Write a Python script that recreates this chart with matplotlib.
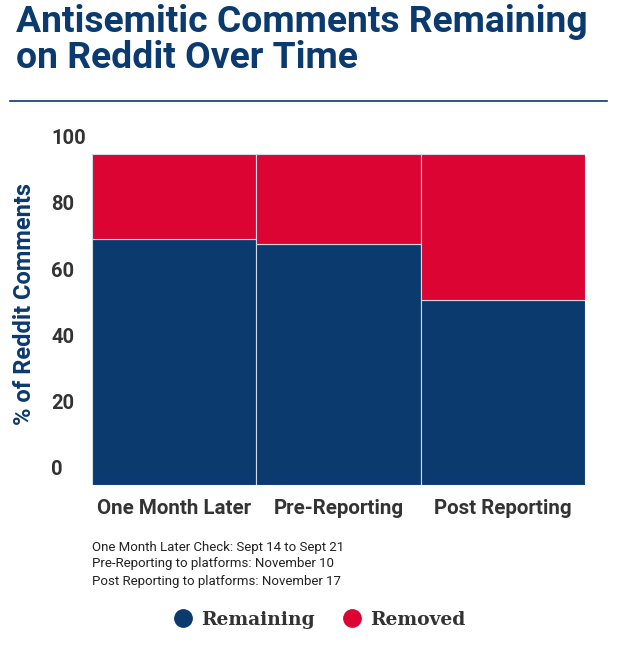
import matplotlib.pyplot as plt
from matplotlib.lines import Line2D
from matplotlib.transforms import offset_copy

# donnees du graphique
categories = ["One Month Later", "Pre-Reporting", "Post Reporting"]
remaining = [74.3, 73.0, 55.9]
removed = [25.7, 27.0, 44.1]
yticks = [0, 20, 40, 60, 80, 100]
notes = [
    "One Month Later Check: Sept 14 to Sept 21",
    "Pre-Reporting to platforms: November 10",
    "Post Reporting to platforms: November 17",
]

navy = "#0a3a6e"
red = "#dc0432"
grey = "#333333"

plt.rcParams["font.family"] = ["Roboto", "DejaVu Sans"]

fig = plt.figure(figsize=(6.2, 6.46), dpi=100)
ax = fig.add_axes([0.148, 0.2492, 0.796, 0.5119])

x = range(len(categories))
ax.bar(x, remaining, width=1, color=navy, edgecolor="#d0dae6", linewidth=0.8)
ax.bar(x, removed, width=1, bottom=remaining, color=red, edgecolor="#d0dae6", linewidth=0.8)

ax.set_xlim(-0.5, len(categories) - 0.5)
ax.set_ylim(0, 100)
for s in ax.spines.values():
    s.set_visible(False)
ax.set_xticks([])
ax.set_yticks([])

# labels de l'axe y (alignes a gauche, un peu au-dessus)
trans = offset_copy(ax.get_yaxis_transform(), fig=fig, x=-40.7, y=15.5, units="dots")
for t in yticks:
    ax.text(0, t, str(t), transform=trans, ha="left", va="center",
            fontsize=14.5, fontweight="bold", color=grey)

# labels des categories
for i, c in enumerate(categories):
    ax.text(i, -7, c, ha="center", va="center", fontsize=14.8,
            fontweight="bold", color=grey)

fig.text(25 / 620, 1 - 304 / 646, "% of Reddit Comments", rotation=90,
         ha="center", va="center", fontsize=17, fontweight="bold", color=navy)

# titre
fig.text(16 / 620, 1 - 22 / 646, "Antisemitic Comments Remaining", ha="left",
         va="center", fontsize=26.8, fontweight="bold", color=navy)
fig.text(16 / 620, 1 - 58 / 646, "on Reddit Over Time", ha="left",
         va="center", fontsize=26.8, fontweight="bold", color=navy)
fig.add_artist(Line2D([10 / 620, 607 / 620], [1 - 101 / 646] * 2,
                      color=navy, linewidth=1.2))

# notes
for k, n in enumerate(notes):
    fig.text(92 / 620, 1 - (547 + 17 * k) / 646, n, ha="left", va="center",
             fontsize=9.5, color="#222222")

# legende
handles = [
    Line2D([], [], marker="o", linestyle="", markersize=12.5, color=navy, label="Remaining"),
    Line2D([], [], marker="o", linestyle="", markersize=12.5, color=red, label="Removed"),
]
fig.legend(handles=handles, loc="center", bbox_to_anchor=(0.515, 1 - 620 / 646),
           ncol=2, frameon=False, handlelength=1.0, handletextpad=0.46,
           columnspacing=1.5,
           prop={"family": "DejaVu Serif", "weight": "bold", "size": 13.5},
           labelcolor=grey)

fig.savefig("out.png", dpi=100)
